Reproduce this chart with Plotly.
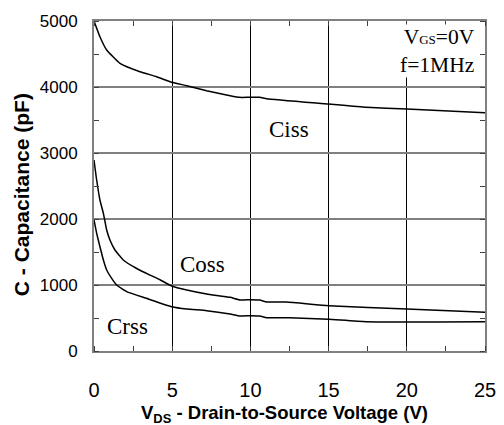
import plotly.graph_objects as go

# Data
ciss_x = [0, 0.38, 0.81, 1.66, 2.94, 4.0, 4.97, 5.93, 7.2, 8.7, 9.33, 10.0, 10.6, 11.04, 15.0, 17.4, 20.0, 25.0]
ciss_y = [5000, 4762, 4561, 4359, 4232, 4156, 4071, 4020, 3944, 3868, 3843, 3845, 3843, 3823, 3742, 3692, 3666, 3611]

coss_x = [0, 0.17, 0.38, 0.6, 0.81, 1.02, 1.34, 1.87, 2.73, 3.58, 4.22, 4.97, 5.93, 7.2, 8.7, 9.33, 10.0, 10.6, 11.04, 12.3, 15.0, 20.0, 25.0]
coss_y = [2894, 2591, 2288, 2086, 1833, 1682, 1530, 1379, 1250, 1150, 1080, 985, 924, 864, 813, 773, 778, 773, 742, 742, 687, 636, 586]

crss_x = [0, 0.17, 0.38, 0.6, 0.81, 1.13, 1.45, 2.09, 3.35, 4.97, 5.93, 7.2, 8.7, 9.33, 10.0, 10.6, 11.04, 12.5, 15.0, 17.4, 25.0]
crss_y = [1985, 1783, 1580, 1379, 1227, 1101, 1000, 899, 798, 671, 636, 611, 560, 530, 535, 530, 505, 505, 480, 444, 444]

labels = ["Ciss", "Coss", "Crss"]
label_x = [12.47, 6.94, 2.17]
label_y = [3355, 1305, 375]

x_ticks = [0, 5, 10, 15, 20, 25]
y_ticks = [0, 1000, 2000, 3000, 4000, 5000]

fig = go.Figure()
for xs, ys in [(ciss_x, ciss_y), (coss_x, coss_y), (crss_x, crss_y)]:
    fig.add_trace(go.Scatter(x=xs, y=ys, mode="lines",
                             line=dict(color="black", width=1.5, shape="spline", smoothing=0.4),
                             showlegend=False, hoverinfo="skip"))

for t, xv, yv in zip(labels, label_x, label_y):
    fig.add_annotation(x=xv, y=yv, text=t, showarrow=False,
                       font=dict(family="Liberation Serif", size=23, color="black"))

fig.add_annotation(xref="paper", yref="paper", x=0.978, y=0.992, xanchor="right", yanchor="top",
                   text='V<span style="font-size:13px">GS</span>=0V<br>f=1MHz',
                   showarrow=False, align="right", bgcolor="white", borderpad=0,
                   font=dict(family="Liberation Serif", size=21.5, color="black"))

# axis titles
fig.add_annotation(xref="paper", yref="paper", x=0.487, y=-0.19, xanchor="center", yanchor="middle",
                   text="<b>V<sub>DS</sub> - Drain-to-Source Voltage (V)</b>", showarrow=False,
                   font=dict(family="Liberation Sans", size=18.5, color="black"))
fig.add_annotation(xref="paper", yref="paper", x=-0.187, y=0.475, xanchor="center", yanchor="middle",
                   text="<b>C - Capacitance (pF)</b>", showarrow=False, textangle=-90,
                   font=dict(family="Liberation Sans", size=21, color="black"))

fig.update_layout(
    width=504, height=425,
    margin=dict(l=94, r=19, t=21, b=74),
    paper_bgcolor="white", plot_bgcolor="white",
    xaxis=dict(range=[0, 25], tickvals=x_ticks, ticktext=[str(v) for v in x_ticks],
               showgrid=True, gridcolor="black", gridwidth=1, automargin=False,
               showline=True, linecolor="#808080", linewidth=2, mirror="allticks",
               ticks="outside", ticklen=20, tickcolor="rgba(0,0,0,0)", tickwidth=1,
               minor=dict(ticks="inside", ticklen=5, dtick=2.5, tick0=0, tickcolor="#404040",
                          tickwidth=1, showgrid=False),
               tickfont=dict(family="Liberation Sans", size=20, color="black"), zeroline=False),
    yaxis=dict(range=[0, 5000], tickvals=y_ticks, ticktext=[str(v) for v in y_ticks],
               showgrid=True, gridcolor="#808080", gridwidth=1.5, automargin=False,
               showline=True, linecolor="#808080", linewidth=2, mirror="allticks",
               ticks="outside", ticklen=11, tickcolor="rgba(0,0,0,0)", tickwidth=1,
               minor=dict(ticks="inside", ticklen=5, dtick=500, tick0=0, tickcolor="#404040",
                          tickwidth=1, showgrid=False),
               tickfont=dict(family="Liberation Sans", size=17, color="black"), zeroline=False),
)

fig.write_html("out.html", config={"displayModeBar": False},
               post_script="document.body.style.margin='0px';")
